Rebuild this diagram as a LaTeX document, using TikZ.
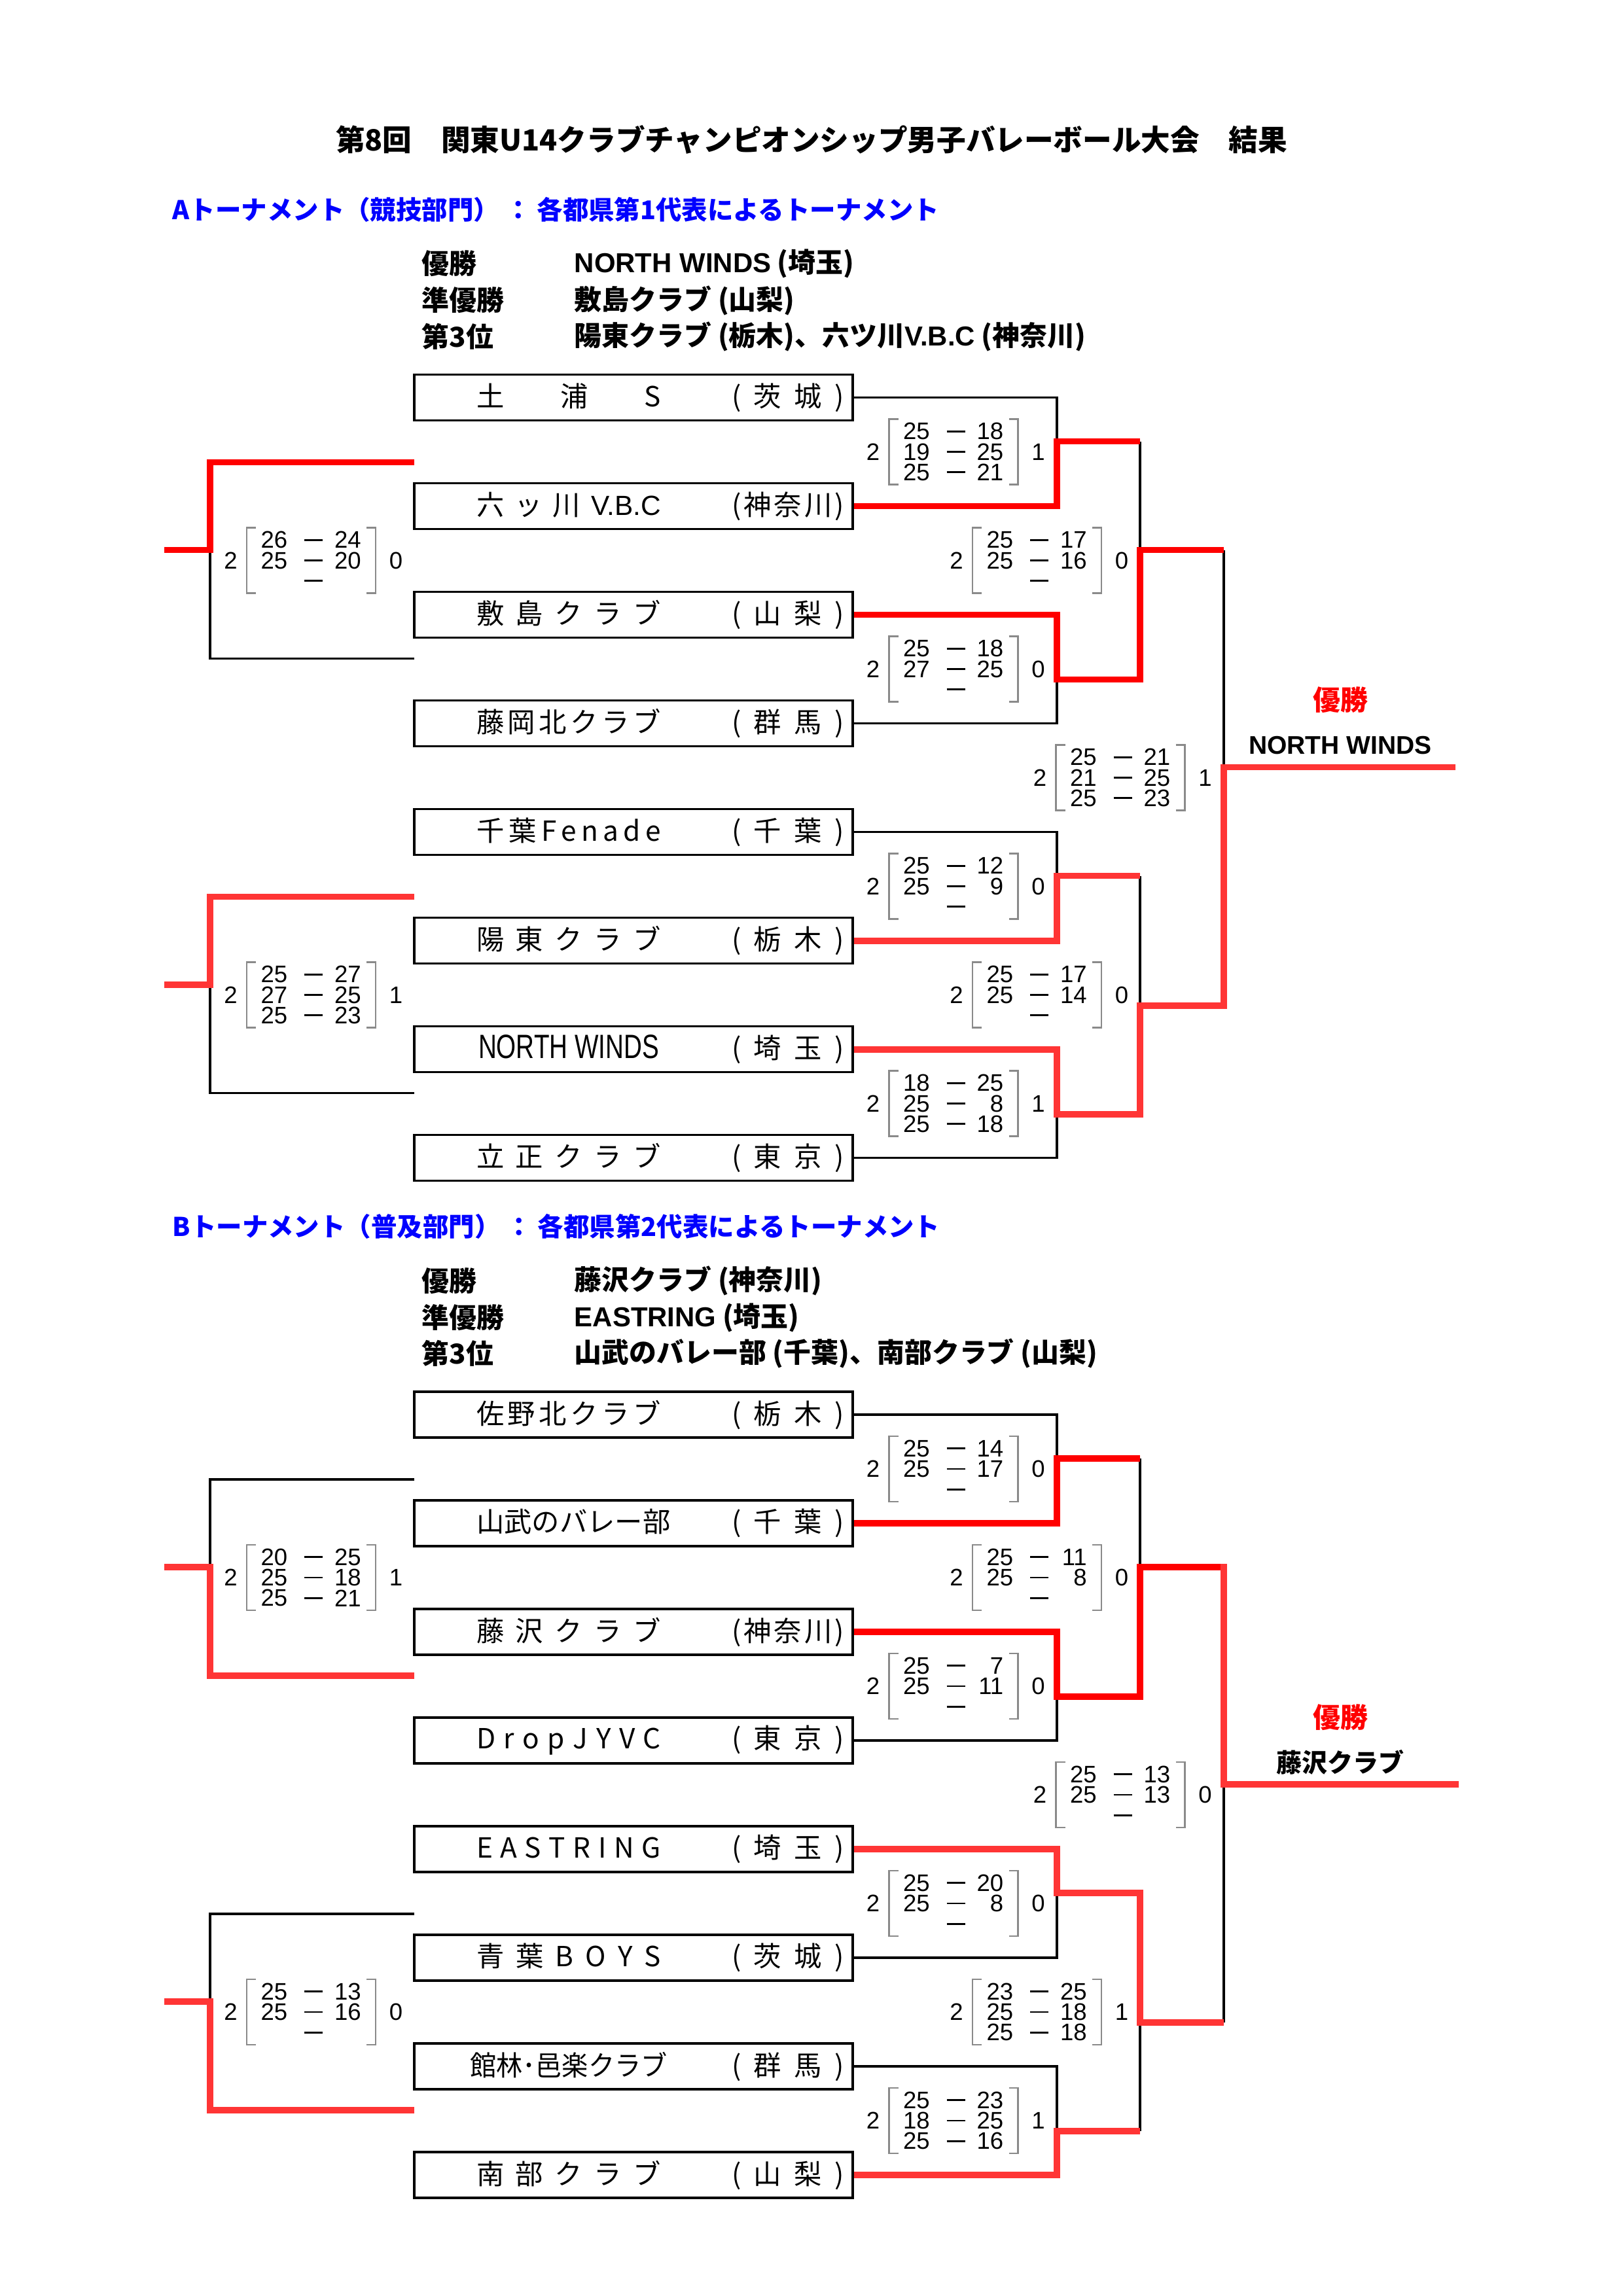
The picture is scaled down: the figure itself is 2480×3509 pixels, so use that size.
\documentclass[tikz,border=0pt]{standalone}
\usepackage{fontspec}
\usepackage{graphicx}
\newfontfamily\jp{Noto Sans CJK JP}
\newfontfamily\lat{Liberation Sans}
\newlength{\pxu}
\setlength{\pxu}{0.0846774mm}
\definecolor{redA}{HTML}{FF0000}
\definecolor{redB}{HTML}{FF3535}
\definecolor{hblue}{HTML}{0000FF}
\definecolor{brkgray}{HTML}{8A8A8A}

\newcommand\nwbox{{\lat\fontsize{12.4pt}{14pt}\selectfont\scalebox{0.75}[1]{NORTH WINDS}}}

\newcommand\team[5][s]{%
  \node[tbox] (#2) at (968,#3) {\hspace*{95\pxu}\makebox[282\pxu][#1]{#4}\hspace*{108\pxu}\makebox[172\pxu][s]{#5}\hspace*{13\pxu}};}

\newcommand\scoreblk[6]{%
  \node[num] (#1-l) at ({#2-126.5},#3) {#4};
  \node[num] (#1-r) at ({#2+126},#3) {#5};
  \draw[brk] ({#2-88},{#3-50}) -- ({#2-102},{#3-50}) -- ({#2-102},{#3+50}) -- ({#2-88},{#3+50});
  \draw[brk] ({#2+81},{#3-50}) -- ({#2+95},{#3-50}) -- ({#2+95},{#3+50}) -- ({#2+81},{#3+50});
  \foreach \dk in {-1,0,1}{\draw[dsh] ({#2-14},{#3+\dk*31.3}) -- ({#2+14},{#3+\dk*31.3});}
  \foreach \sa/\sb [count=\si] in {#6}{%
    \node[num,anchor=east] (#1-a\si) at ({#2-39},{#3+(\si-2)*31.3}) {\sa};
    \node[num,anchor=east] (#1-b\si) at ({#2+73.5},{#3+(\si-2)*31.3}) {\sb};}%
}

\tikzset{
  blk/.style={line width=0.75pt, draw=black},
  winA/.style={line width=2.4pt, draw=redA, line join=miter},
  winB/.style={line width=2.4pt, draw=redB, line join=miter},
  winBc/.style={winB, line cap=rect},
  tbox/.style={draw, line width=0.75pt, minimum height=70\pxu, inner sep=0pt, font=\jp\fontsize{10.2pt}{12pt}\selectfont},
  num/.style={font=\lat\fontsize{8.8pt}{10pt}\selectfont, inner sep=0pt},
  brk/.style={draw=brkgray, line width=0.5pt},
  dsh/.style={draw=black, line width=0.65pt},
  ttl/.style={font=\jp\bfseries\fontsize{10.75pt}{13pt}\selectfont, inner sep=0pt},
  hdr/.style={font=\jp\bfseries\fontsize{9.5pt}{12pt}\selectfont, text=hblue, anchor=west, inner sep=0pt},
  res/.style={font=\jp\bfseries\fontsize{10.1pt}{12pt}\selectfont, anchor=west, inner sep=0pt},
  chm/.style={font=\jp\bfseries\fontsize{10.1pt}{12pt}\selectfont, text=redA, inner sep=0pt},
  chn/.style={font=\jp\bfseries\fontsize{9.4pt}{11pt}\selectfont, inner sep=0pt},
}

\begin{document}
\begin{tikzpicture}[x=0.0846774mm, y=-0.0846774mm]
\fill[white] (0,0) rectangle (2480,3509);
\useasboundingbox (0,0) rectangle (2480,3509);

\node[ttl] (title) at (1240,213.5) {第8回　関東U14クラブチャンピオンシップ男子バレーボール大会　結果};

% ================= A tournament =================
\node[hdr] (A-hdr) at (263,320) {Aトーナメント（競技部門） ： 各都県第1代表によるトーナメント};
\node[res] (A-r1k) at (644,403) {優勝};
\node[res] (A-r1v) at (877,403) {{\lat NORTH WINDS} (埼玉)};
\node[res] (A-r2k) at (644,459) {準優勝};
\node[res] (A-r2v) at (877,459) {敷島クラブ (山梨)};
\node[res] (A-r3k) at (644,514) {第3位};
\node[res] (A-r3v) at (877,514) {陽東クラブ (栃木)、六ツ川{\lat V.B.C} (神奈川)};

\team{A1}{607.5}{土\hfill 浦\hfill S}{(\hfill 茨\hfill 城\hfill )}
\team{A2}{773.5}{六\hfill ッ\hfill 川\hfill {\lat V.B.C}}{(\hfill 神\hfill 奈\hfill 川\hfill )}
\team{A3}{939.5}{敷\hfill 島\hfill ク\hfill ラ\hfill ブ}{(\hfill 山\hfill 梨\hfill )}
\team{A4}{1105.5}{藤\hfill 岡\hfill 北\hfill ク\hfill ラ\hfill ブ}{(\hfill 群\hfill 馬\hfill )}
\team{A5}{1271.5}{千\hfill 葉\hfill F\hfill e\hfill n\hfill a\hfill d\hfill e}{(\hfill 千\hfill 葉\hfill )}
\team{A6}{1437.5}{陽\hfill 東\hfill ク\hfill ラ\hfill ブ}{(\hfill 栃\hfill 木\hfill )}
\team[c]{A7}{1603.5}{\nwbox}{(\hfill 埼\hfill 玉\hfill )}
\team{A8}{1769.5}{立\hfill 正\hfill ク\hfill ラ\hfill ブ}{(\hfill 東\hfill 京\hfill )}

\coordinate (A-m1) at (1615,674.5);  \coordinate (A-m1e) at (1742,674.5);
\coordinate (A-m2) at (1615,1038.5); \coordinate (A-m2e) at (1742,1038.5);
\coordinate (A-m3) at (1615,1338.5); \coordinate (A-m3e) at (1742,1338.5);
\coordinate (A-m4) at (1615,1702.5); \coordinate (A-m4e) at (1742,1702.5);
\coordinate (A-s1) at (1742,840.5);  \coordinate (A-s1e) at (1870,840.5);
\coordinate (A-s2) at (1742,1536.5); \coordinate (A-s2e) at (1870,1536.5);
\coordinate (A-f) at (1870,1172.5);  \coordinate (A-fe) at (2224,1172.5);
\coordinate (A-L1a) at (633,706.5);  \coordinate (A-L1b) at (633,1006.5);
\coordinate (A-L1j) at (321,840.5);  \coordinate (A-L1e) at (251,840.5);
\coordinate (A-L2a) at (633,1370.5); \coordinate (A-L2b) at (633,1670.5);
\coordinate (A-L2j) at (321,1504.5); \coordinate (A-L2e) at (251,1504.5);

\draw[blk] (A1.east) -| (A-m1);
\draw[blk] (A4.east) -| (A-m2);
\draw[blk] (A5.east) -| (A-m3);
\draw[blk] (A8.east) -| (A-m4);
\draw[blk] (A-m1e) -- (A-s1);
\draw[blk] (A-m3e) -- (A-s2);
\draw[blk] (A-s1e) -- (A-f);
\draw[blk] (A-L1b) -| (A-L1j);
\draw[blk] (A-L2b) -| (A-L2j);

\draw[winA] (A2.east) -| (A-m1) -- (A-m1e);
\draw[winA] (A3.east) -| (A-m2) -- (A-m2e) -- (A-s1) -- (A-s1e);
\draw[winB] (A6.east) -| (A-m3) -- (A-m3e);
\draw[winB] (A7.east) -| (A-m4) -- (A-m4e) -- (A-s2) -- (A-s2e) -- (A-f) -- (A-fe);
\draw[winA] (A-L1a) -| (A-L1j) -- (A-L1e);
\draw[winB] (A-L2a) -| (A-L2j) -- (A-L2e);

\scoreblk{A-sc1}{1460.5}{690.5}{2}{1}{25/18,19/25,25/21}
\scoreblk{A-sc2}{1460.5}{1022.5}{2}{0}{25/18,27/25}
\scoreblk{A-sc3}{1460.5}{1354.5}{2}{0}{25/12,25/9}
\scoreblk{A-sc4}{1460.5}{1686.5}{2}{1}{18/25,25/8,25/18}
\scoreblk{A-sc5}{1588}{856.5}{2}{0}{25/17,25/16}
\scoreblk{A-sc6}{1588}{1520.5}{2}{0}{25/17,25/14}
\scoreblk{A-sc7}{1715.5}{1188.5}{2}{1}{25/21,21/25,25/23}
\scoreblk{A-sc8}{479}{856.5}{2}{0}{26/24,25/20}
\scoreblk{A-sc9}{479}{1520.5}{2}{1}{25/27,27/25,25/23}

\node[chm] (A-ch) at (2048,1070) {優勝};
\node[chn] (A-chn) at (2048,1139) {\lat NORTH WINDS};

% ================= B tournament =================
\begin{scope}[shift={(0,1554.5)}]
\node[hdr] (B-hdr) at (263,320) {Bトーナメント（普及部門） ： 各都県第2代表によるトーナメント};
\node[res] (B-r1k) at (644,403) {優勝};
\node[res] (B-r1v) at (877,403) {藤沢クラブ (神奈川)};
\node[res] (B-r2k) at (644,459) {準優勝};
\node[res] (B-r2v) at (877,459) {{\lat EASTRING} (埼玉)};
\node[res] (B-r3k) at (644,514) {第3位};
\node[res] (B-r3v) at (877,514) {山武のバレー部 (千葉)、南部クラブ (山梨)};

\team{B1}{607.5}{佐\hfill 野\hfill 北\hfill ク\hfill ラ\hfill ブ}{(\hfill 栃\hfill 木\hfill )}
\team{B2}{773.5}{山\hfill 武\hfill の\hfill バ\hfill レ\hfill ー\hfill 部}{(\hfill 千\hfill 葉\hfill )}
\team{B3}{939.5}{藤\hfill 沢\hfill ク\hfill ラ\hfill ブ}{(\hfill 神\hfill 奈\hfill 川\hfill )}
\team{B4}{1105.5}{D\hfill r\hfill o\hfill p\hfill J\hfill Y\hfill V\hfill C}{(\hfill 東\hfill 京\hfill )}
\team{B5}{1271.5}{E\hfill A\hfill S\hfill T\hfill R\hfill I\hfill N\hfill G}{(\hfill 埼\hfill 玉\hfill )}
\team{B6}{1437.5}{青\hfill 葉\hfill B\hfill O\hfill Y\hfill S}{(\hfill 茨\hfill 城\hfill )}
\team[c]{B7}{1603.5}{\scalebox{0.95}[1]{館林･邑楽クラブ}}{(\hfill 群\hfill 馬\hfill )}
\team{B8}{1769.5}{南\hfill 部\hfill ク\hfill ラ\hfill ブ}{(\hfill 山\hfill 梨\hfill )}

\coordinate (B-m1) at (1615,674.5);  \coordinate (B-m1e) at (1742,674.5);
\coordinate (B-m2) at (1615,1038.5); \coordinate (B-m2e) at (1742,1038.5);
\coordinate (B-m3) at (1615,1338.5); \coordinate (B-m3e) at (1742,1338.5);
\coordinate (B-m4) at (1615,1702.5); \coordinate (B-m4e) at (1742,1702.5);
\coordinate (B-s1) at (1742,840.5);  \coordinate (B-s1e) at (1870,840.5);
\coordinate (B-s2) at (1742,1536.5); \coordinate (B-s2e) at (1870,1536.5);
\coordinate (B-f) at (1870,1172.5);  \coordinate (B-fe) at (2224,1172.5);
\coordinate (B-L1a) at (633,706.5);  \coordinate (B-L1b) at (633,1006.5);
\coordinate (B-L1j) at (321,840.5);  \coordinate (B-L1e) at (251,840.5);
\coordinate (B-L2a) at (633,1370.5); \coordinate (B-L2b) at (633,1670.5);
\coordinate (B-L2j) at (321,1504.5); \coordinate (B-L2e) at (251,1504.5);

\draw[blk] (B1.east) -| (B-m1);
\draw[blk] (B4.east) -| (B-m2);
\draw[blk] (B6.east) -| (B-m3);
\draw[blk] (B7.east) -| (B-m4);
\draw[blk] (B-m1e) -- (B-s1);
\draw[blk] (B-m4e) -- (B-s2);
\draw[blk] (B-s2e) -- (B-f);
\draw[blk] (B-L1a) -| (B-L1j);
\draw[blk] (B-L2a) -| (B-L2j);

\draw[winA] (B2.east) -| (B-m1) -- (B-m1e);
\draw[winA] (B3.east) -| (B-m2) -- (B-m2e) -- (B-s1) -- (B-s1e);
\draw[winBc] (B-s1e) -- (B-f) -- (B-fe);
\draw[winB] (B5.east) -| (B-m3) -- (B-m3e) -- (B-s2) -- (B-s2e);
\draw[winB] (B8.east) -| (B-m4) -- (B-m4e);
\draw[winB] (B-L1b) -| (B-L1j) -- (B-L1e);
\draw[winB] (B-L2b) -| (B-L2j) -- (B-L2e);

\scoreblk{B-sc1}{1460.5}{690.5}{2}{0}{25/14,25/17}
\scoreblk{B-sc2}{1460.5}{1022.5}{2}{0}{25/7,25/11}
\scoreblk{B-sc3}{1460.5}{1354.5}{2}{0}{25/20,25/8}
\scoreblk{B-sc4}{1460.5}{1686.5}{2}{1}{25/23,18/25,25/16}
\scoreblk{B-sc5}{1588}{856.5}{2}{0}{25/11,25/8}
\scoreblk{B-sc6}{1588}{1520.5}{2}{1}{23/25,25/18,25/18}
\scoreblk{B-sc7}{1715.5}{1188.5}{2}{0}{25/13,25/13}
\scoreblk{B-sc8}{479}{856.5}{2}{1}{20/25,25/18,25/21}
\scoreblk{B-sc9}{479}{1520.5}{2}{0}{25/13,25/16}

\node[chm] (B-ch) at (2048,1070) {優勝};
\node[chn] (B-chn) at (2048,1139) {藤沢クラブ};
\end{scope}
\end{tikzpicture}
\end{document}
